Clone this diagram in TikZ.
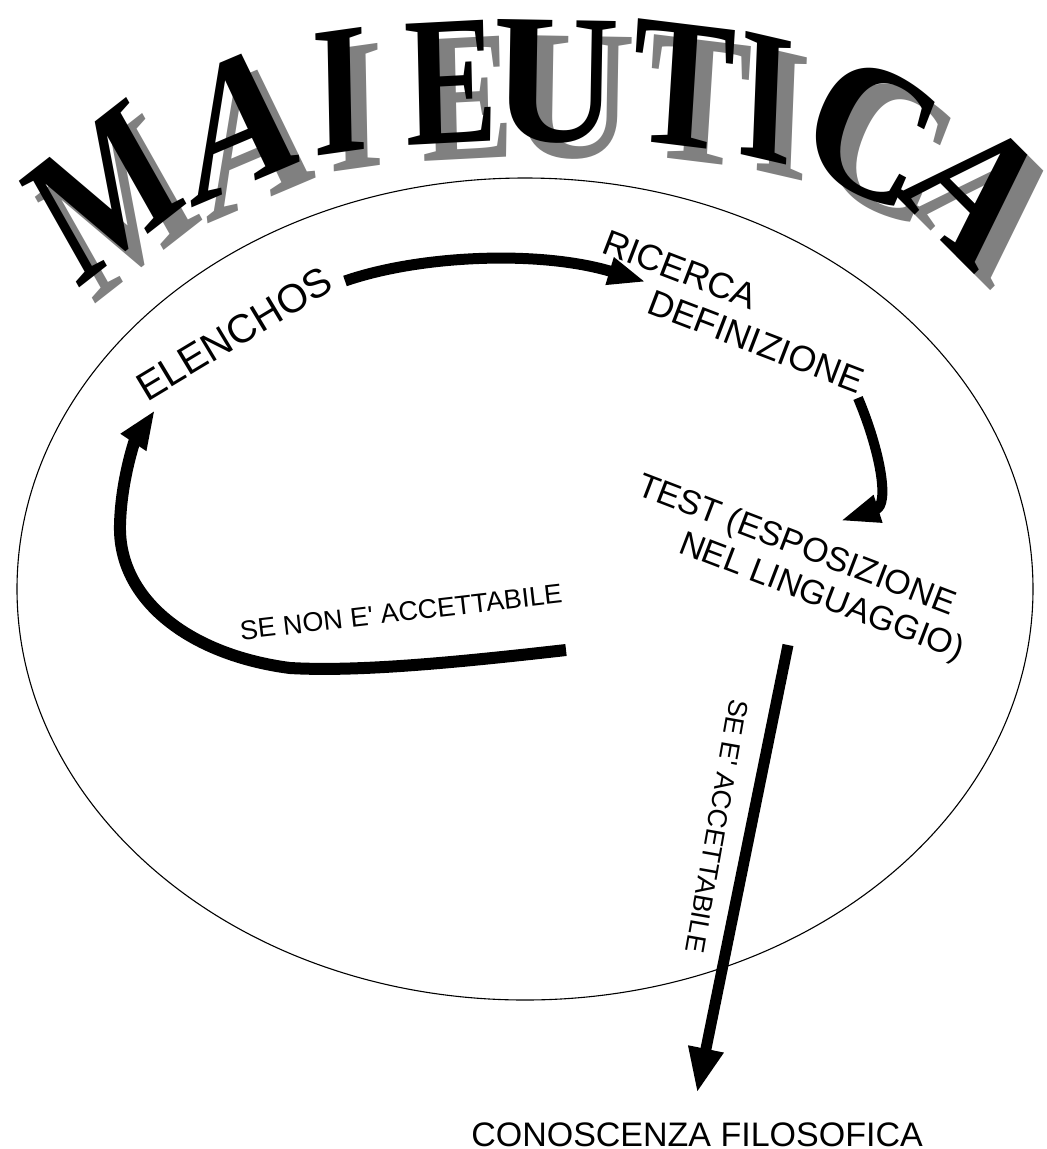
\documentclass[tikz,border=0pt]{standalone}
\usepackage{fontspec}
\setmainfont{Liberation Sans}
\newfontfamily\titlefont{Liberation Serif}
\usetikzlibrary{arrows.meta}
\definecolor{shadowgray}{RGB}{128,128,128}
\tikzset{
  lbl/.style={inner sep=0pt, outer sep=0pt, font=\fontsize{#1}{#1}\selectfont},
  ttl/.style={inner sep=0pt, outer sep=0pt, font=\titlefont\bfseries\fontsize{185}{185}\selectfont},
  bigarrow/.style={line width=#1, line cap=butt, line join=round},
}
\begin{document}
\begin{tikzpicture}[x=1pt,y=-1pt]
\fill[white] (0,0) rectangle (1047,1149);
\useasboundingbox (0,0) rectangle (1047,1149);

% ellipse
\draw[line width=1.1pt] (525,589) ellipse [x radius=508, y radius=411];

% title letters: shadows first
\foreach \n/\x/\y/\r/\s/\k/\l in {1/104/192/38/0.15/0.82/M, 2/238/122/23/0.29/0.9/A, 3/340/92/8/0.12/0.78/I, 4/451/82/3/0.03/0.75/E, 5/556/82/-1/0/0.95/U, 6/683/85/-7/-0.06/0.83/T, 7/766/98/-13/-0.19/0.78/I, 8/872/132/-28/-0.1/0.95/C, 9/976/190/-45/0/0.9/A}{
  \node[ttl, text=shadowgray, rotate=\r, xslant=\s, xscale=\k] (sh\n) at (\x+16,\y+16) {\l};
}
\foreach \n/\x/\y/\r/\s/\k/\l in {1/104/192/38/0.15/0.82/M, 2/238/122/23/0.29/0.9/A, 3/340/92/8/0.12/0.78/I, 4/451/82/3/0.03/0.75/E, 5/556/82/-1/0/0.95/U, 6/683/85/-7/-0.06/0.83/T, 7/766/98/-13/-0.19/0.78/I, 8/872/132/-28/-0.1/0.95/C, 9/976/190/-45/0/0.9/A}{
  \node[ttl, text=black, rotate=\r, xslant=\s, xscale=\k] (tl\n) at (\x,\y) {\l};
}

% labels
\node[lbl=40, rotate=31, anchor=base west] (elenchos) at (147,402) {ELENCHOS};
\node[lbl=36, rotate=-21, anchor=base west] (ricerca) at (600,252) {RICERCA};
\node[lbl=36, rotate=-21, anchor=base west] (definizione) at (645,312) {DEFINIZIONE};
\node[lbl=34, rotate=-21, anchor=base west] (test) at (635,494) {TEST (ESPOSIZIONE};
\node[lbl=34, rotate=-21, anchor=base west] (linguaggio) at (677,552) {NEL LINGUAGGIO)};
\node[lbl=27, rotate=6.6, anchor=base west] (senon) at (241,640) {SE NON E\textquotesingle{} ACCETTABILE};
\node[lbl=27, rotate=-100, anchor=base west] (sesi) at (730,698) {SE E\textquotesingle{} ACCETTABILE};
\node[lbl=34, anchor=base] (conoscenza) at (697,1146) {CONOSCENZA FILOSOFICA};

% connector end points
\coordinate (a1s) at (345,281);
\coordinate (a1e) at (646,282);
\coordinate (a2s) at (858,398);
\coordinate (a2e) at (840,521);
\coordinate (a3s) at (566,650);
\coordinate (a3e) at (155,410);
\coordinate (a4s) at (788,645);
\coordinate (a4e) at (697,1093);

% arrows
\draw[bigarrow=11pt, -{Triangle[length=38pt,width=26pt]}]
  (a1s) .. controls (420,255) and (540,250) .. (a1e);
\draw[bigarrow=10pt, -{Triangle[length=40pt,width=26pt]}]
  (a2s) .. controls (880,450) and (890,505) .. (a2e);
\draw[bigarrow=12pt, -{Triangle[length=39pt,width=28pt]}]
  (a3s) .. controls (460,662) and (360,672) .. (290,668)
        .. controls (190,655) and (118,600) .. (120,525)
        .. controls (121,480) and (135,440) .. (a3e);
\draw[bigarrow=11pt, -{Triangle[length=45pt,width=33pt]}] (a4s) -- (a4e);
\end{tikzpicture}
\end{document}
